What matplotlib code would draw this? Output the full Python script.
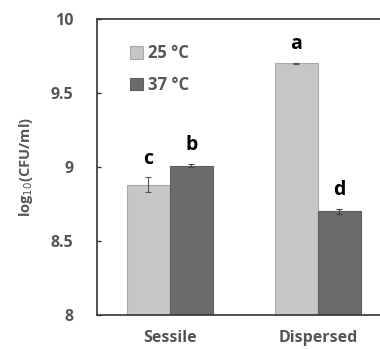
import matplotlib.pyplot as plt
import numpy as np

# data
categories = ['Sessile', 'Dispersed']
series_labels = ['25 °C', '37 °C']
vals_25 = [8.88, 9.70]
err_25 = [0.05, 0.005]
vals_37 = [9.01, 8.70]
err_37 = [0.008, 0.015]
letters_25 = ['c', 'a']
letters_37 = ['b', 'd']

light = '#c6c6c6'
dark = '#6b6b6b'
txt = '#555555'

fig = plt.figure(figsize=(3.8, 3.49), dpi=100)
ax = fig.add_axes([0.255, 0.0974, 0.745, 0.848])

x = np.arange(len(categories))
w = 0.29
b1 = ax.bar(x - w/2, np.array(vals_25) - 8, w, bottom=8, color=light, edgecolor='#a8a8a8',
            linewidth=0.8, label=series_labels[0], yerr=err_25,
            error_kw=dict(ecolor='#555555', elinewidth=0.8, capsize=2.5, capthick=0.8))
b2 = ax.bar(x + w/2, np.array(vals_37) - 8, w, bottom=8, color=dark, edgecolor='#5e5e5e',
            linewidth=0.8, label=series_labels[1], yerr=err_37,
            error_kw=dict(ecolor='#444444', elinewidth=0.8, capsize=2.5, capthick=0.8))

for i in range(len(categories)):
    ax.text(x[i] - w/2, vals_25[i] + err_25[i] + 0.06, letters_25[i], ha='center', va='bottom',
            fontsize=14, fontweight='bold', color='black', family='Open Sans')
    ax.text(x[i] + w/2, vals_37[i] + err_37[i] + 0.06, letters_37[i], ha='center', va='bottom',
            fontsize=14, fontweight='bold', color='black', family='Open Sans')

ax.set_ylim(8, 10)
ax.set_xlim(-0.493, 1.419)
ax.set_yticks([8, 8.5, 9, 9.5, 10])
ax.set_yticklabels(['8', '8.5', '9', '9.5', '10'])
ax.set_xticks(x)
ax.set_xticklabels(categories)
ax.tick_params(axis='y', direction='in', length=3, width=1, color='#333333', pad=17,
               labelsize=11.5, labelcolor=txt)
ax.tick_params(axis='x', length=0, pad=11, labelsize=11.5, labelcolor=txt)
for lab in ax.get_xticklabels() + ax.get_yticklabels():
    lab.set_fontweight('bold')
    lab.set_family('Open Sans')

ax.spines['right'].set_visible(False)
for s in ['left', 'top', 'bottom']:
    ax.spines[s].set_color('#333333')
    ax.spines[s].set_linewidth(1.2)

ax.set_ylabel('log$_{10}$(CFU/ml)', fontsize=10.5, fontweight='bold', color=txt,
              family='Open Sans', labelpad=11)

ax.legend(loc='upper left', bbox_to_anchor=(0.065, 0.965), frameon=False,
          handlelength=0.75, handleheight=0.75, handletextpad=0.3, labelspacing=0.8,
          prop=dict(family='Open Sans', weight='bold', size=12), labelcolor=txt)

fig.savefig('out.png', dpi=100)
